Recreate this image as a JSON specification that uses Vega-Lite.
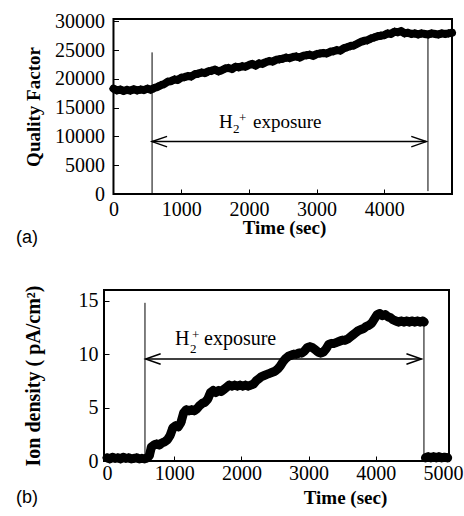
{
  "$schema": "https://vega.github.io/schema/vega-lite/v6.json",
  "background": "white",
  "padding": {"left": 15, "top": 11, "right": 3, "bottom": 5},
  "spacing": 36,
  "config": {
    "view": {"stroke": "black", "strokeWidth": 2},
    "axis": {
      "grid": false, "domain": false, "tickColor": "black", "tickSize": -5, "tickWidth": 1, "format": "d",
      "labelFont": "Liberation Serif", "labelFontSize": 20, "labelColor": "black",
      "titleFont": "Liberation Serif", "titleFontSize": 19, "titleFontWeight": "bold", "titleColor": "black",
      "labelFlush": false, "labelOverlap": false
    },
    "text": {"font": "Liberation Serif"},
    "title": {"font": "Liberation Sans", "fontSize": 18, "fontWeight": "normal", "color": "black"}
  },
  "datasets": {
    "qf": [
      {"t":0,"v":18300},{"t":50,"v":18000},{"t":100,"v":18150},{"t":150,"v":17900},{"t":200,"v":18100},{"t":250,"v":17950},{"t":300,"v":18200},{"t":350,"v":18000},{"t":400,"v":18150},{"t":450,"v":18050},
      {"t":500,"v":18300},{"t":550,"v":18100},{"t":600,"v":18400},{"t":650,"v":18600},{"t":700,"v":18900},{"t":750,"v":19100},{"t":800,"v":19500},{"t":850,"v":19600},{"t":900,"v":19900},{"t":950,"v":19800},
      {"t":1000,"v":20200},{"t":1050,"v":20300},{"t":1100,"v":20500},{"t":1150,"v":20400},{"t":1200,"v":20800},{"t":1250,"v":20900},{"t":1300,"v":21100},{"t":1350,"v":21000},{"t":1400,"v":21300},{"t":1450,"v":21400},
      {"t":1500,"v":21600},{"t":1550,"v":21300},{"t":1600,"v":21500},{"t":1650,"v":21800},{"t":1700,"v":21900},{"t":1750,"v":21700},{"t":1800,"v":22100},{"t":1850,"v":22000},{"t":1900,"v":22200},{"t":1950,"v":22100},
      {"t":2000,"v":22400},{"t":2050,"v":22600},{"t":2100,"v":22300},{"t":2150,"v":22700},{"t":2200,"v":22600},{"t":2250,"v":22900},{"t":2300,"v":23100},{"t":2350,"v":23000},{"t":2400,"v":23300},{"t":2450,"v":23400},
      {"t":2500,"v":23500},{"t":2550,"v":23700},{"t":2600,"v":23600},{"t":2650,"v":23800},{"t":2700,"v":23900},{"t":2750,"v":23700},{"t":2800,"v":24000},{"t":2850,"v":24100},{"t":2900,"v":24200},{"t":2950,"v":24000},
      {"t":3000,"v":24300},{"t":3050,"v":24400},{"t":3100,"v":24500},{"t":3150,"v":24400},{"t":3200,"v":24700},{"t":3250,"v":24800},{"t":3300,"v":25000},{"t":3350,"v":24900},{"t":3400,"v":25300},{"t":3450,"v":25500},
      {"t":3500,"v":25700},{"t":3550,"v":25800},{"t":3600,"v":26100},{"t":3650,"v":26400},{"t":3700,"v":26600},{"t":3750,"v":26700},{"t":3800,"v":27000},{"t":3850,"v":27200},{"t":3900,"v":27400},{"t":3950,"v":27500},
      {"t":4000,"v":27600},{"t":4050,"v":27900},{"t":4100,"v":27800},{"t":4150,"v":28200},{"t":4200,"v":28100},{"t":4250,"v":28300},{"t":4300,"v":27900},{"t":4350,"v":28000},{"t":4400,"v":27800},{"t":4450,"v":27900},
      {"t":4500,"v":27700},{"t":4550,"v":27900},{"t":4600,"v":27800},{"t":4650,"v":27700},{"t":4700,"v":27900},{"t":4750,"v":27800},{"t":4800,"v":27700},{"t":4850,"v":27900},{"t":4900,"v":27800},{"t":4950,"v":27900},{"t":5000,"v":28000}
    ],
    "qfV": [{"t":570,"v":0,"v2":24600},{"t":4645,"v":500,"v2":27700}],
    "qfA": [{"t":570,"t2":4620,"v":9100}],
    "qfH": [{"t":570,"v":9100,"dir":"L"},{"t":4620,"v":9100,"dir":"R"}],
    "qfT": [{"t":1558,"v":11510}],
    "id": [
      {"t":0,"v":0.3,"seg":"a"},{"t":40,"v":0.2,"seg":"a"},{"t":80,"v":0.35,"seg":"a"},{"t":120,"v":0.25,"seg":"a"},{"t":160,"v":0.3,"seg":"a"},{"t":200,"v":0.2,"seg":"a"},{"t":240,"v":0.35,"seg":"a"},{"t":280,"v":0.25,"seg":"a"},{"t":320,"v":0.3,"seg":"a"},{"t":360,"v":0.2,"seg":"a"},
      {"t":400,"v":0.25,"seg":"a"},{"t":440,"v":0.3,"seg":"a"},{"t":480,"v":0.2,"seg":"a"},{"t":520,"v":0.25,"seg":"a"},{"t":560,"v":0.2,"seg":"a"},{"t":600,"v":0.3,"seg":"a"},{"t":630,"v":0.5,"seg":"a"},{"t":660,"v":1.3,"seg":"a"},{"t":700,"v":1.5,"seg":"a"},{"t":740,"v":1.6,"seg":"a"},
      {"t":780,"v":1.5,"seg":"a"},{"t":820,"v":1.7,"seg":"a"},{"t":860,"v":1.8,"seg":"a"},{"t":900,"v":2.0,"seg":"a"},{"t":940,"v":2.4,"seg":"a"},{"t":980,"v":3.1,"seg":"a"},{"t":1020,"v":3.3,"seg":"a"},{"t":1060,"v":3.2,"seg":"a"},{"t":1100,"v":3.6,"seg":"a"},{"t":1140,"v":4.5,"seg":"a"},
      {"t":1180,"v":4.8,"seg":"a"},{"t":1220,"v":4.7,"seg":"a"},{"t":1260,"v":4.8,"seg":"a"},{"t":1300,"v":4.7,"seg":"a"},{"t":1340,"v":4.9,"seg":"a"},{"t":1380,"v":5.2,"seg":"a"},{"t":1420,"v":5.4,"seg":"a"},{"t":1460,"v":5.5,"seg":"a"},{"t":1500,"v":5.8,"seg":"a"},{"t":1540,"v":6.4,"seg":"a"},
      {"t":1580,"v":6.6,"seg":"a"},{"t":1620,"v":6.4,"seg":"a"},{"t":1660,"v":6.6,"seg":"a"},{"t":1700,"v":6.5,"seg":"a"},{"t":1740,"v":6.7,"seg":"a"},{"t":1780,"v":6.9,"seg":"a"},{"t":1820,"v":7.1,"seg":"a"},{"t":1860,"v":7.0,"seg":"a"},{"t":1900,"v":7.1,"seg":"a"},{"t":1940,"v":7.0,"seg":"a"},
      {"t":1980,"v":7.1,"seg":"a"},{"t":2020,"v":7.0,"seg":"a"},{"t":2060,"v":7.1,"seg":"a"},{"t":2100,"v":7.0,"seg":"a"},{"t":2140,"v":7.1,"seg":"a"},{"t":2180,"v":7.2,"seg":"a"},{"t":2220,"v":7.5,"seg":"a"},{"t":2260,"v":7.7,"seg":"a"},{"t":2300,"v":7.9,"seg":"a"},{"t":2340,"v":8.0,"seg":"a"},
      {"t":2380,"v":8.1,"seg":"a"},{"t":2420,"v":8.2,"seg":"a"},{"t":2460,"v":8.3,"seg":"a"},{"t":2500,"v":8.4,"seg":"a"},{"t":2540,"v":8.6,"seg":"a"},{"t":2580,"v":8.9,"seg":"a"},{"t":2620,"v":9.3,"seg":"a"},{"t":2660,"v":9.6,"seg":"a"},{"t":2700,"v":9.8,"seg":"a"},{"t":2740,"v":9.9,"seg":"a"},
      {"t":2780,"v":10.0,"seg":"a"},{"t":2820,"v":10.0,"seg":"a"},{"t":2860,"v":10.1,"seg":"a"},{"t":2900,"v":10.1,"seg":"a"},{"t":2940,"v":10.3,"seg":"a"},{"t":2980,"v":10.6,"seg":"a"},{"t":3020,"v":10.7,"seg":"a"},{"t":3060,"v":10.6,"seg":"a"},{"t":3100,"v":10.4,"seg":"a"},{"t":3140,"v":10.2,"seg":"a"},
      {"t":3180,"v":10.1,"seg":"a"},{"t":3220,"v":10.2,"seg":"a"},{"t":3260,"v":10.5,"seg":"a"},{"t":3300,"v":10.9,"seg":"a"},{"t":3340,"v":11.0,"seg":"a"},{"t":3380,"v":11.0,"seg":"a"},{"t":3420,"v":11.1,"seg":"a"},{"t":3460,"v":11.2,"seg":"a"},{"t":3500,"v":11.3,"seg":"a"},{"t":3540,"v":11.3,"seg":"a"},
      {"t":3580,"v":11.4,"seg":"a"},{"t":3620,"v":11.6,"seg":"a"},{"t":3660,"v":11.8,"seg":"a"},{"t":3700,"v":12.0,"seg":"a"},{"t":3740,"v":12.2,"seg":"a"},{"t":3780,"v":12.3,"seg":"a"},{"t":3820,"v":12.4,"seg":"a"},{"t":3860,"v":12.6,"seg":"a"},{"t":3900,"v":12.7,"seg":"a"},{"t":3940,"v":12.9,"seg":"a"},
      {"t":3980,"v":13.3,"seg":"a"},{"t":4020,"v":13.7,"seg":"a"},{"t":4060,"v":13.8,"seg":"a"},{"t":4100,"v":13.6,"seg":"a"},{"t":4140,"v":13.7,"seg":"a"},{"t":4180,"v":13.5,"seg":"a"},{"t":4220,"v":13.4,"seg":"a"},{"t":4260,"v":13.2,"seg":"a"},{"t":4300,"v":13.1,"seg":"a"},{"t":4340,"v":13.0,"seg":"a"},
      {"t":4380,"v":13.1,"seg":"a"},{"t":4420,"v":13.0,"seg":"a"},{"t":4460,"v":13.1,"seg":"a"},{"t":4500,"v":13.0,"seg":"a"},{"t":4540,"v":13.1,"seg":"a"},{"t":4580,"v":13.0,"seg":"a"},{"t":4620,"v":13.1,"seg":"a"},{"t":4660,"v":13.0,"seg":"a"},{"t":4700,"v":13.1,"seg":"a"},{"t":4720,"v":13.0,"seg":"a"},
      {"t":4740,"v":0.3,"seg":"b"},{"t":4780,"v":0.4,"seg":"b"},{"t":4820,"v":0.3,"seg":"b"},{"t":4860,"v":0.4,"seg":"b"},{"t":4900,"v":0.3,"seg":"b"},{"t":4940,"v":0.4,"seg":"b"},{"t":4980,"v":0.3,"seg":"b"},{"t":5020,"v":0.35,"seg":"b"},{"t":5070,"v":0.3,"seg":"b"}
    ],
    "idV": [{"t":565,"v":0,"v2":14.8},{"t":4717,"v":0,"v2":13.0}],
    "idA": [{"t":575,"t2":4680,"v":9.54}],
    "idH": [{"t":575,"v":9.54,"dir":"L"},{"t":4680,"v":9.54,"dir":"R"}],
    "idT": [{"t":1012,"v":10.9}]
  },
  "vconcat": [
    {
      "width": 348, "height": 175,
      "view": {"stroke": null},
      "title": {"text": "(a)", "orient": "bottom", "anchor": "start", "frame": "group", "offset": -8, "dx": -88},
      "layer": [
        {
          "data": {"values": [{}]},
          "mark": {"type": "rect", "filled": false, "stroke": "black", "strokeWidth": 2},
          "encoding": {
            "x": {"datum": 0, "type": "quantitative"}, "x2": {"datum": 5000},
            "y": {"datum": 0, "type": "quantitative"}, "y2": {"datum": 30400}
          }
        },
        {
          "data": {"name": "qf"},
          "mark": {"type": "line", "color": "black", "strokeWidth": 8, "strokeJoin": "round", "strokeCap": "round"},
          "encoding": {
            "x": {"field": "t", "type": "quantitative", "scale": {"domain": [-140, 5000], "nice": false, "zero": false},
                  "axis": {"title": "Time (sec)", "values": [0, 1000, 2000, 3000, 4000], "format": "d", "labelFont": "Liberation Serif", "labelOverlap": false, "labelPadding": 10, "titlePadding": -1, "titleX": 180}},
            "y": {"field": "v", "type": "quantitative", "scale": {"domain": [0, 30400], "nice": false},
                  "axis": {"title": "Quality Factor", "tickCount": 7, "format": "d", "labelFont": "Liberation Serif", "labelOverlap": false, "labelPadding": 14, "titlePadding": 11, "offset": -9.5}}
          }
        },
        {
          "data": {"name": "qf"},
          "mark": {"type": "point", "shape": "diamond", "filled": true, "color": "black", "opacity": 1, "size": 75},
          "encoding": {"x": {"field": "t", "type": "quantitative"}, "y": {"field": "v", "type": "quantitative"}}
        },
        {
          "data": {"name": "qfV"},
          "mark": {"type": "rule", "color": "black", "strokeWidth": 1},
          "encoding": {"x": {"field": "t", "type": "quantitative"}, "y": {"field": "v", "type": "quantitative"}, "y2": {"field": "v2"}}
        },
        {
          "data": {"name": "qfA"},
          "mark": {"type": "rule", "color": "black", "strokeWidth": 1.5},
          "encoding": {"x": {"field": "t", "type": "quantitative"}, "x2": {"field": "t2"}, "y": {"field": "v", "type": "quantitative"}}
        },
        {
          "data": {"name": "qfH"},
          "mark": {"type": "point", "filled": false, "color": "black", "strokeWidth": 1.5, "opacity": 1, "size": 900},
          "encoding": {"x": {"field": "t", "type": "quantitative"}, "y": {"field": "v", "type": "quantitative"},
                       "shape": {"field": "dir", "type": "nominal", "scale": {"domain": ["L", "R"], "range": ["M1,-0.35L0,0L1,0.35", "M-1,-0.35L0,0L-1,0.35"]}, "legend": null}}
        },
        {
          "data": {"name": "qfT"},
          "mark": {"type": "text", "text": "H", "font": "Liberation Serif", "fontSize": 19, "align": "left", "baseline": "alphabetic", "color": "black"},
          "encoding": {"x": {"field": "t", "type": "quantitative"}, "y": {"field": "v", "type": "quantitative"}}
        },
        {
          "data": {"name": "qfT"},
          "mark": {"type": "text", "text": "2", "font": "Liberation Serif", "fontSize": 13, "align": "left", "baseline": "alphabetic", "dx": 14, "dy": 5, "color": "black"},
          "encoding": {"x": {"field": "t", "type": "quantitative"}, "y": {"field": "v", "type": "quantitative"}}
        },
        {
          "data": {"name": "qfT"},
          "mark": {"type": "text", "text": "+", "font": "Liberation Serif", "fontSize": 13, "align": "left", "baseline": "alphabetic", "dx": 20, "dy": -6, "color": "black"},
          "encoding": {"x": {"field": "t", "type": "quantitative"}, "y": {"field": "v", "type": "quantitative"}}
        },
        {
          "data": {"name": "qfT"},
          "mark": {"type": "text", "text": "exposure", "font": "Liberation Serif", "fontSize": 19, "align": "left", "baseline": "alphabetic", "dx": 34, "color": "black"},
          "encoding": {"x": {"field": "t", "type": "quantitative"}, "y": {"field": "v", "type": "quantitative"}}
        }
      ]
    },
    {
      "width": 345, "height": 171,
      "title": {"text": "(b)", "orient": "bottom", "anchor": "start", "frame": "group", "offset": -18, "dx": -88},
      "layer": [
        {
          "data": {"name": "id"},
          "mark": {"type": "line", "color": "black", "strokeWidth": 9, "strokeJoin": "round", "strokeCap": "round"},
          "encoding": {
            "x": {"field": "t", "type": "quantitative", "scale": {"domain": [-45, 5090], "nice": false, "zero": false},
                  "axis": {"title": "Time (sec)", "values": [0, 1000, 2000, 3000, 4000, 5000], "format": "d", "labelFont": "Liberation Serif", "labelOverlap": false, "labelPadding": 7, "titlePadding": 5, "titleX": 241}},
            "y": {"field": "v", "type": "quantitative", "scale": {"domain": [0, 16], "nice": false},
                  "axis": {"title": "Ion density ( pA/cm²)", "titleFontSize": 20, "values": [0, 5, 10, 15], "format": "d", "labelFont": "Liberation Serif", "labelOverlap": false, "labelPadding": 11, "titlePadding": 35}},
            "detail": {"field": "seg"}
          }
        },
        {
          "data": {"name": "id"},
          "mark": {"type": "point", "shape": "diamond", "filled": true, "color": "black", "opacity": 1, "size": 85},
          "encoding": {"x": {"field": "t", "type": "quantitative"}, "y": {"field": "v", "type": "quantitative"}}
        },
        {
          "data": {"name": "idV"},
          "mark": {"type": "rule", "color": "black", "strokeWidth": 1},
          "encoding": {"x": {"field": "t", "type": "quantitative"}, "y": {"field": "v", "type": "quantitative"}, "y2": {"field": "v2"}}
        },
        {
          "data": {"name": "idA"},
          "mark": {"type": "rule", "color": "black", "strokeWidth": 1.5},
          "encoding": {"x": {"field": "t", "type": "quantitative"}, "x2": {"field": "t2"}, "y": {"field": "v", "type": "quantitative"}}
        },
        {
          "data": {"name": "idH"},
          "mark": {"type": "point", "filled": false, "color": "black", "strokeWidth": 1.5, "opacity": 1, "size": 900},
          "encoding": {"x": {"field": "t", "type": "quantitative"}, "y": {"field": "v", "type": "quantitative"},
                       "shape": {"field": "dir", "type": "nominal", "scale": {"domain": ["L", "R"], "range": ["M1,-0.35L0,0L1,0.35", "M-1,-0.35L0,0L-1,0.35"]}, "legend": null}}
        },
        {
          "data": {"name": "idT"},
          "mark": {"type": "text", "text": "H", "font": "Liberation Serif", "fontSize": 20, "align": "left", "baseline": "alphabetic", "color": "black"},
          "encoding": {"x": {"field": "t", "type": "quantitative"}, "y": {"field": "v", "type": "quantitative"}}
        },
        {
          "data": {"name": "idT"},
          "mark": {"type": "text", "text": "2", "font": "Liberation Serif", "fontSize": 13, "align": "left", "baseline": "alphabetic", "dx": 15, "dy": 8, "color": "black"},
          "encoding": {"x": {"field": "t", "type": "quantitative"}, "y": {"field": "v", "type": "quantitative"}}
        },
        {
          "data": {"name": "idT"},
          "mark": {"type": "text", "text": "+", "font": "Liberation Serif", "fontSize": 13, "align": "left", "baseline": "alphabetic", "dx": 17, "dy": -6, "color": "black"},
          "encoding": {"x": {"field": "t", "type": "quantitative"}, "y": {"field": "v", "type": "quantitative"}}
        },
        {
          "data": {"name": "idT"},
          "mark": {"type": "text", "text": "exposure", "font": "Liberation Serif", "fontSize": 20, "align": "left", "baseline": "alphabetic", "dx": 29, "color": "black"},
          "encoding": {"x": {"field": "t", "type": "quantitative"}, "y": {"field": "v", "type": "quantitative"}}
        }
      ]
    }
  ]
}
